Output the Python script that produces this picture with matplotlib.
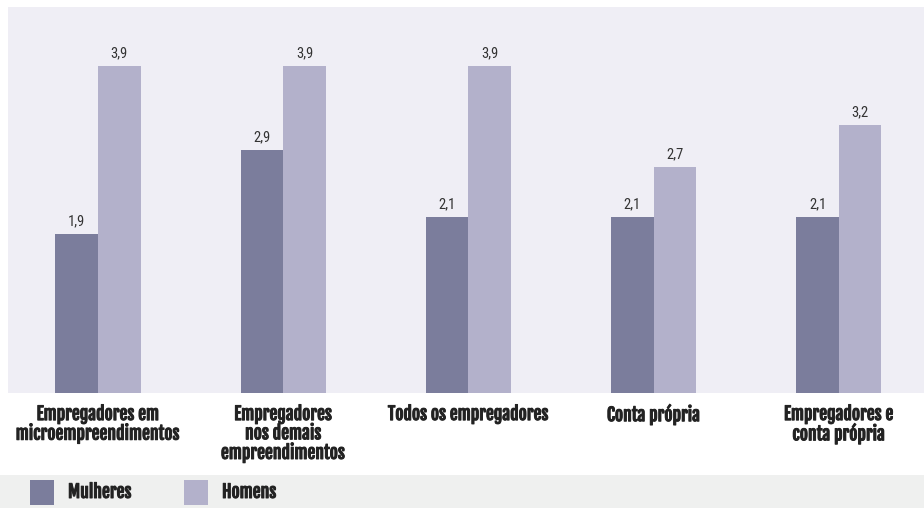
import matplotlib.pyplot as plt
import matplotlib.patheffects as pe
import numpy as np
from matplotlib.patches import Rectangle

categories = ['Empregadores em\nmicroempreendimentos',
              'Empregadores\nnos demais\nempreendimentos',
              'Todos os empregadores',
              'Conta própria',
              'Empregadores e\nconta própria']
mulheres = [1.9, 2.9, 2.1, 2.1, 2.1]
homens = [3.9, 3.9, 3.9, 2.7, 3.2]
series_names = ['Mulheres', 'Homens']
colors = ['#7b7d9c', '#b3b1cb']

label_font = ['Fjalla One', 'Oswald', 'DejaVu Sans']
value_font = ['Roboto Condensed', 'Archivo Narrow', 'DejaVu Sans']
# a thin stroke makes the condensed labels look heavier, like the original
heavy = [pe.withStroke(linewidth=0.7, foreground='#222222')]

fig = plt.figure(figsize=(9.24, 5.08), dpi=100)
fig.patch.set_facecolor('white')

# legend band at the bottom
fig.patches.append(Rectangle((0, 0), 1, 33 / 508, transform=fig.transFigure,
                             facecolor='#eff0ef', edgecolor='none', zorder=0))

ax = fig.add_axes([8 / 924, 115 / 508, 916 / 924, 386 / 508])
ax.set_facecolor('#efeef5')

x = np.arange(len(categories))
w = 0.23
b1 = ax.bar(x - w / 2, mulheres, w, color=colors[0])
b2 = ax.bar(x + w / 2, homens, w, color=colors[1])

for bars, vals in ((b1, mulheres), (b2, homens)):
    for rect, v in zip(bars, vals):
        ax.text(rect.get_x() + rect.get_width() / 2, v + 0.07,
                f'{v:.1f}'.replace('.', ','), ha='center', va='bottom',
                fontsize=10.5, color='#333333', family=value_font)

ax.set_xlim(-0.486, 4.46)
ax.set_ylim(0, 4.61)
ax.set_yticks([])
ax.set_xticks(x)
ax.set_xticklabels(categories, fontsize=12.7, color='#222222',
                   linespacing=0.95, family=label_font)
for t in ax.get_xticklabels():
    t.set_path_effects(heavy)
ax.tick_params(axis='x', length=0, pad=8)
for s in ax.spines.values():
    s.set_visible(False)

# legend
leg_y = 3 / 508
for i, (name, c) in enumerate(zip(series_names, colors)):
    x0 = (30 + 154 * i) / 924
    fig.patches.append(Rectangle((x0, leg_y), 24 / 924, 25 / 508,
                                 transform=fig.transFigure, facecolor=c,
                                 edgecolor='none'))
    fig.text(x0 + 38 / 924, 16 / 508, name, fontsize=12.7,
             color='#222222', va='center', ha='left', family=label_font,
             path_effects=heavy)

fig.savefig('out.png', dpi=100)
